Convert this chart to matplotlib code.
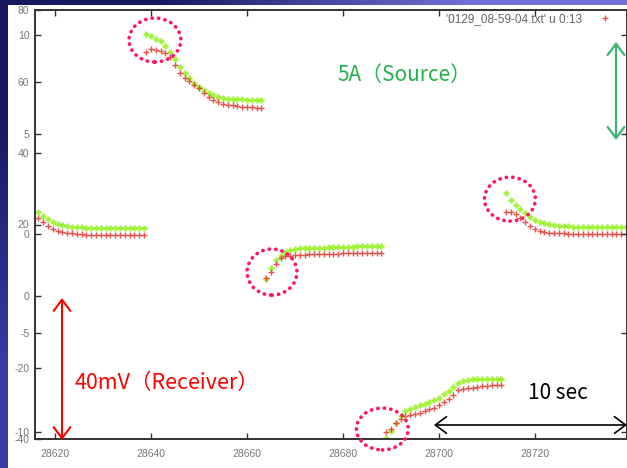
import numpy as np
import matplotlib
matplotlib.use("Agg")
import matplotlib.pyplot as plt
from matplotlib.patches import Ellipse

# ---- data (time in s, value in left-axis units) ----
x_seg1 = [28616.5, 28617.5, 28618.5, 28619.5, 28620.5, 28621.5, 28622.5, 28623.5,
          28624.5, 28625.5, 28626.5, 28627.5, 28628.5, 28629.5, 28630.5, 28631.5,
          28632.5, 28633.5, 28634.5, 28635.5, 28636.5, 28637.5, 28638.5]
green_seg1 = [23.5, 22.4, 21.5, 20.7, 20.1, 19.9, 19.6, 19.4, 19.3, 19.3, 19.1, 19.0,
              19.0, 19.0, 19.0, 19.0, 18.9, 18.9, 18.9, 18.9, 18.9, 18.9, 18.9]
red_seg1 = [21.8, 20.7, 19.6, 18.7, 18.2, 17.9, 17.6, 17.5, 17.3, 17.3, 17.2, 17.2,
            17.1, 17.1, 17.1, 17.1, 17.1, 17.1, 17.1, 17.1, 17.1, 17.1, 17.1]

x_seg2 = [28639, 28640, 28641, 28642, 28643, 28644, 28645, 28646, 28647, 28648,
          28649, 28650, 28651, 28652, 28653, 28654, 28655, 28656, 28657, 28658,
          28659, 28660, 28661, 28662, 28663]
green_seg2 = [73.3, 72.7, 72.0, 71.2, 69.9, 68.3, 66.3, 64.1, 62.4, 61.0, 59.6, 58.5,
              57.6, 56.8, 56.1, 55.7, 55.4, 55.2, 55.1, 55.0, 55.0, 54.9, 54.9, 54.8, 54.8]
red_seg2 = [68.3, 69.1, 68.8, 68.5, 68.0, 66.9, 64.6, 62.4, 61.0, 60.1, 59.0, 58.2,
            56.8, 55.7, 54.8, 54.3, 53.8, 53.4, 53.3, 53.1, 53.0, 52.9, 52.9, 52.7, 52.6]

x_seg3 = [28664, 28665, 28666, 28667, 28668, 28669, 28670, 28671, 28672, 28673,
          28674, 28675, 28676, 28677, 28678, 28679, 28680, 28681, 28682, 28683,
          28684, 28685, 28686, 28687, 28688]
green_seg3 = [4.8, 7.8, 10.1, 11.3, 12.3, 12.9, 13.2, 13.3, 13.4, 13.4, 13.5, 13.5, 13.5,
              13.6, 13.6, 13.7, 13.7, 13.8, 13.8, 13.9, 13.9, 14.0, 14.0, 14.0, 14.0]
red_seg3 = [5.0, 6.7, 9.0, 10.5, 11.1, 11.3, 11.5, 11.6, 11.6, 11.7, 11.7, 11.7, 11.8,
            11.8, 11.8, 11.8, 11.9, 11.9, 11.9, 11.9, 12.0, 12.0, 12.0, 12.0, 12.0]

x_seg4 = [28689, 28690, 28691, 28692, 28693, 28694, 28695, 28696, 28697, 28698,
          28699, 28700, 28701, 28702, 28703, 28704, 28705, 28706, 28707, 28708,
          28709, 28710, 28711, 28712, 28713]
green_seg4 = [-39.7, -37.8, -35.5, -33.6, -32.2, -31.6, -31.0, -30.5, -30.1, -29.6,
              -29.1, -28.4, -27.4, -26.6, -25.4, -24.3, -23.8, -23.5, -23.3, -23.2,
              -23.2, -23.2, -23.2, -23.2, -23.2]
red_seg4 = [-38.1, -37.2, -35.5, -34.3, -33.6, -33.3, -33.0, -32.6, -32.2, -31.6,
            -31.2, -30.5, -29.6, -28.8, -27.7, -26.3, -26.0, -25.7, -25.6, -25.4,
            -25.3, -25.2, -25.0, -24.9, -24.9]

x_seg5 = [28714, 28715, 28716, 28717, 28718, 28719, 28720, 28721, 28722, 28723,
          28724, 28725, 28726, 28727, 28728, 28729, 28730, 28731, 28732, 28733,
          28734, 28735, 28736, 28737, 28738, 28739, 28740]
green_seg5 = [28.8, 26.9, 25.5, 24.3, 23.2, 22.1, 21.3, 20.7, 20.4, 20.1, 19.9, 19.7,
              19.6, 19.5, 19.4, 19.4, 19.3, 19.3, 19.3, 19.3, 19.3, 19.3, 19.3, 19.3,
              19.3, 19.3, 19.3]
red_seg5 = [23.5, 23.5, 22.8, 21.8, 20.7, 19.6, 18.7, 18.2, 17.9, 17.6, 17.6, 17.5,
            17.5, 17.4, 17.4, 17.3, 17.3, 17.3, 17.3, 17.3, 17.3, 17.3, 17.3, 17.3,
            17.3, 17.3, 17.3]

segments = [(x_seg1, green_seg1, red_seg1), (x_seg2, green_seg2, red_seg2),
            (x_seg3, green_seg3, red_seg3), (x_seg4, green_seg4, red_seg4),
            (x_seg5, green_seg5, red_seg5)]

x_ticks = [28620, 28640, 28660, 28680, 28700, 28720]
y_ticks_main = [-40, -20, 0, 20, 40, 60, 80]
y_ticks_second = [-10, -5, 0, 5, 10]

# circled transitions: (center x, center y, width, height) in data units
circles = [(28640.8, 71.6, 10.8, 12.3), (28665.2, 6.7, 10.4, 12.9),
           (28714.8, 27.1, 10.6, 12.3), (28688.2, -37.2, 10.8, 11.7)]

legend_label = "'0129_08-59-04.txt' u 0:13"

W, H = 627, 468
plt.rcParams["font.family"] = ["Liberation Sans", "DejaVu Sans"]
plt.rcParams["axes.unicode_minus"] = False
CJK = ["Noto Sans CJK JP", "DejaVu Sans"]


def fx(px):
    return px / W


def fy(py):
    return 1 - py / H


def main():
    fig = plt.figure(figsize=(W / 100, H / 100), dpi=100)

    # blue slide background
    bg = fig.add_axes([0, 0, 1, 1])
    corners = np.array([[[22, 24, 96], [112, 112, 214]],
                        [[52, 58, 160], [80, 85, 190]]]) / 255
    bg.imshow(corners, aspect="auto", interpolation="bilinear", extent=[0, 1, 0, 1])
    bg.set_axis_off()

    panel = fig.add_axes([fx(8), 0, 1 - fx(8), 1 - 5 / H])
    panel.set_facecolor("white")
    panel.set_xticks([])
    panel.set_yticks([])
    for s in panel.spines.values():
        s.set_visible(False)

    ax = fig.add_axes([fx(35), 1 - 439 / H, 1 - fx(35), 429 / H])
    ax.set_facecolor("none")
    for i, (xs, g, r) in enumerate(segments):
        ax.plot(xs, g, linestyle="none", marker="+", ms=5, mew=1.8,
                color="#84f000", alpha=0.75)
        ax.plot(xs, r, linestyle="none", marker="+", ms=5, mew=1.0,
                color="#e2342c", alpha=0.85,
                label=legend_label if i == 0 else None)

    for cx, cy, w, h in circles:
        ax.add_patch(Ellipse((cx, cy), w, h, fill=False, edgecolor="#ff1464",
                             lw=2.6, linestyle=(0, (0.1, 1.7)), capstyle="round",
                             clip_on=False, zorder=5))

    ax.set_xlim(28615.8, 28739.2)
    ax.set_ylim(-40, 80)
    ax.set_xticks(x_ticks)
    ax.set_yticks(y_ticks_main)
    ax.tick_params(direction="in", length=4, width=1, color="#333333",
                   labelcolor="#777777", labelsize=7.5, top=True, right=True)
    ax.tick_params(axis="x", pad=7)
    ax.tick_params(axis="y", pad=4)
    for s in ax.spines.values():
        s.set_color("#333333")
        s.set_linewidth(1.4)

    ax2 = ax.twinx()
    ax2.set_ylim(-10.35, 11.26)
    ax2.set_yticks(y_ticks_second)
    ax2.tick_params(axis="y", direction="in", length=4, width=1, color="#333333",
                    labelcolor="#777777", labelsize=7.5, pad=4,
                    left=True, labelleft=True, right=True, labelright=False)
    for s in ax2.spines.values():
        s.set_visible(False)

    leg = ax.legend(loc="upper right", bbox_to_anchor=(fx(612), fy(13)),
                    bbox_transform=fig.transFigure, frameon=False, markerfirst=False,
                    fontsize=8.5, labelcolor="#666666", handlelength=1.2,
                    handletextpad=1.3, borderpad=0, borderaxespad=0)
    leg.set_zorder(6)

    arrow = dict(arrowstyle="<->,head_length=0.4,head_width=0.3",
                 shrinkA=0, shrinkB=0, mutation_scale=20)
    ax.annotate("", xy=(fx(616), fy(42)), xytext=(fx(616), fy(140)),
                xycoords="figure fraction", textcoords="figure fraction",
                arrowprops=dict(arrow, color="#3cb371", lw=1.6))
    ax.annotate("", xy=(fx(62), fy(298)), xytext=(fx(62), fy(440)),
                xycoords="figure fraction", textcoords="figure fraction",
                arrowprops=dict(arrow, color="#ff0000", lw=1.5))
    ax.annotate("", xy=(fx(434), fy(425)), xytext=(fx(627), fy(425)),
                xycoords="figure fraction", textcoords="figure fraction",
                arrowprops=dict(arrow, color="black", lw=1.2))

    fig.text(fx(337), fy(75), "5A（Source）", family=CJK, fontsize=15,
             color="#22b14c", ha="left", va="center")
    fig.text(fx(75), fy(383), "40mV（Receiver）", family=CJK, fontsize=15.5,
             color="#ff0000", ha="left", va="center")
    fig.text(fx(528), fy(393), "10 sec", family=CJK, fontsize=15,
             color="black", ha="left", va="center")

    fig.savefig("out.png", dpi=100)


if __name__ == "__main__":
    main()
